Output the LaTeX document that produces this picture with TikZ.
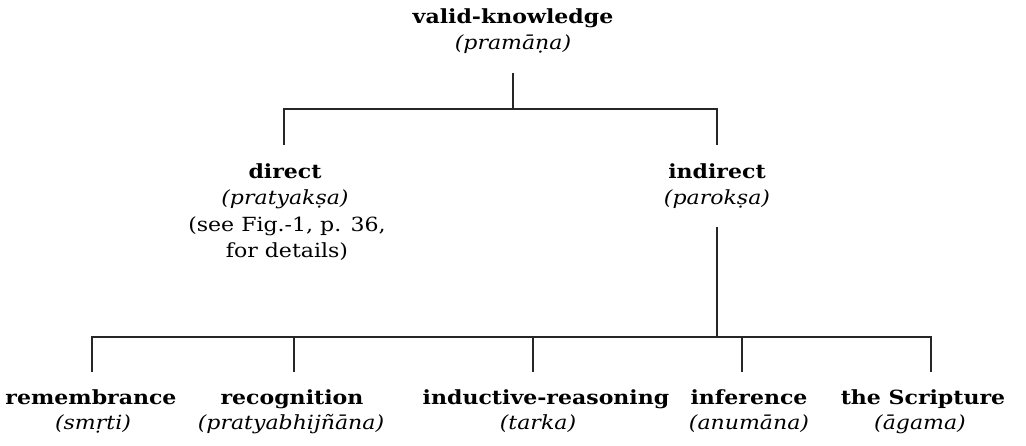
\documentclass[tikz,border=0pt]{standalone}
\usepackage{fontspec}
\setmainfont{DejaVu Serif}[FakeStretch=1.13]
\begin{document}
\begin{tikzpicture}[x=1pt,y=-1pt,
  term/.style={font=\fontsize{19.5}{26}\selectfont\bfseries, inner sep=0pt, anchor=base},
  gloss/.style={font=\fontsize{19.5}{26}\selectfont\itshape, inner sep=0pt, anchor=base},
  remark/.style={font=\fontsize{19.5}{26}\selectfont, inner sep=0pt, anchor=base},
  wire/.style={line width=1.5pt, draw=black!85, line join=miter}]
\useasboundingbox (0,0) rectangle (1026,446);

% root
\node[term]  (vk)  at (513,24) {valid-knowledge};
\node[gloss] (vkg) at (513,50) {(pramāṇa)};

% first level
\node[term]   (dir)  at (285,179) {direct};
\node[gloss]  (dirg) at (285,205) {(pratyakṣa)};
\node[remark] (dirn1) at (287,232) {(see Fig.-1, p. 36,};
\node[remark] (dirn2) at (287,258) {for details)};

\node[term]  (ind)  at (717,179) {indirect};
\node[gloss] (indg) at (717,205) {(parokṣa)};

% second level
\node[term]  (rem)  at (91,404)  {remembrance};
\node[gloss] (remg) at (93,429)  {(smṛti)};
\node[term]  (rec)  at (292,404) {recognition};
\node[gloss] (recg) at (291,429) {(pratyabhijñāna)};
\node[term]  (tar)  at (546,404) {inductive-reasoning};
\node[gloss] (targ) at (538,429) {(tarka)};
\node[term]  (inf)  at (749,404) {inference};
\node[gloss] (infg) at (749,429) {(anumāna)};
\node[term]  (scr)  at (923,404) {the Scripture};
\node[gloss] (scrg) at (920,429) {(āgama)};

% junction points of the tree
\coordinate (vkfoot) at (513,73);
\coordinate (bar1)   at (513,109);
\coordinate (dirtop) at (284,145);
\coordinate (indtop) at (717,145);
\coordinate (indfoot) at (717,227);
\coordinate (bar2)   at (717,337);
\coordinate (remtop) at (92,372);
\coordinate (rectop) at (294,372);
\coordinate (tartop) at (533,372);
\coordinate (inftop) at (742,372);
\coordinate (scrtop) at (931,372);

% connectors
\draw[wire] (vkfoot) -- (bar1);
\draw[wire] (dirtop) |- (bar1) -| (indtop);
\draw[wire] (indfoot) -- (bar2);
\draw[wire] (remtop) |- (bar2) -| (scrtop);
\draw[wire] (rectop) -- (rectop |- bar2);
\draw[wire] (tartop) -- (tartop |- bar2);
\draw[wire] (inftop) -- (inftop |- bar2);
\end{tikzpicture}
\end{document}
